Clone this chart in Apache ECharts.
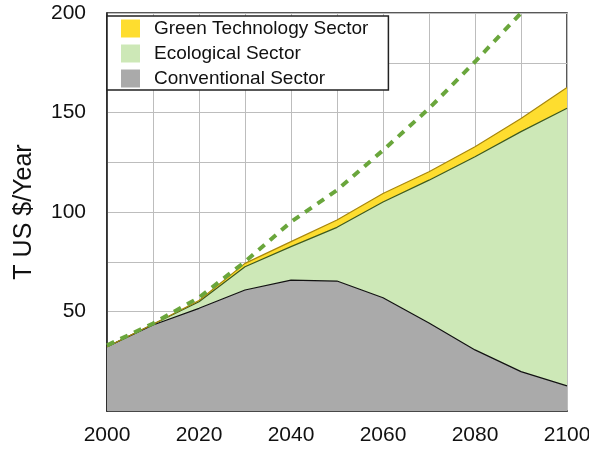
<!DOCTYPE html>
<html><head><meta charset="utf-8">
<script src="https://cdn.jsdelivr.net/npm/echarts@6/dist/echarts.min.js"></script>
<style>html,body{margin:0;padding:0;background:#fff}#c{width:589px;height:451px}</style>
</head><body><div id="c"></div>
<script>
const years = ['2000','2010','2020','2030','2040','2050','2060','2070','2080','2090','2100'];
const conventional = [32.3, 43.2, 51.6, 60.8, 65.8, 65.3, 56.9, 44.2, 30.7, 19.8, 12.6];
const ecological   = [0, 0.4, 3.3, 11.7, 16.8, 27.0, 48.1, 71.8, 97.1, 120.6, 139.5];
const greenTech    = [0, 0, 0.6, 1.7, 2.5, 3.7, 4.3, 4.2, 5.0, 6.6, 10.5];
const projection   = [33, 44, 57, 75, 95, 111, 131, 152, 175.5, 200, null];
const yTickLabels  = [50, 100, 150, 200];

const font = 'Liberation Sans';
const chart = echarts.init(document.getElementById('c'));
chart.setOption({
  animation: false,
  grid: { left: 107, right: 22, top: 13, bottom: 40, show: true, borderColor: '#222', borderWidth: 1.5,
          containLabel: false, outerBoundsMode: 'none' },
  legend: {
    orient: 'vertical', left: 107, top: 16,
    backgroundColor: '#fff', borderColor: '#222', borderWidth: 1.5,
    padding: [3, 20, 2, 14], itemGap: 6, itemWidth: 19, itemHeight: 18,
    textStyle: { fontFamily: font, fontSize: 19, lineHeight: 18, color: '#111', padding: [0, 0, 0, 9] },
    data: [
      { name: 'Green Technology Sector', icon: 'rect', itemStyle: { color: '#fedd2f', borderWidth: 0 } },
      { name: 'Ecological Sector', icon: 'rect', itemStyle: { color: '#cde8b7', borderWidth: 0 } },
      { name: 'Conventional Sector', icon: 'rect', itemStyle: { color: '#aaaaaa', borderWidth: 0 } }
    ],
    z: 10
  },
  xAxis: {
    type: 'category', data: years, boundaryGap: false,
    axisLine: { show: true, lineStyle: { color: '#222', width: 1.5 } },
    axisTick: { show: false },
    axisLabel: { interval: 1, fontFamily: font, fontSize: 21, color: '#111', margin: 14 },
    splitLine: { show: true, interval: 0, lineStyle: { color: '#bdbdbd', width: 1 } }
  },
  yAxis: {
    type: 'value', min: 0, max: 200, interval: 25,
    name: 'T US $/Year', nameLocation: 'middle', nameGap: 70,
    nameTextStyle: { fontFamily: font, fontSize: 25, color: '#111' },
    axisLine: { show: true, lineStyle: { color: '#222', width: 1.5 } },
    axisTick: { show: false },
    axisLabel: {
      fontFamily: font, fontSize: 21, color: '#111', margin: 21,
      formatter: v => yTickLabels.includes(v) ? String(v) : ''
    },
    splitLine: { show: true, lineStyle: { color: '#bdbdbd', width: 1 } }
  },
  series: [
    { name: 'Conventional Sector', type: 'line', stack: 's', data: conventional, symbol: 'none',
      lineStyle: { color: '#111', width: 1.2 }, itemStyle: { color: '#aaaaaa' },
      areaStyle: { color: '#aaaaaa', opacity: 1 } },
    { name: 'Ecological Sector', type: 'line', stack: 's', data: ecological, symbol: 'none',
      lineStyle: { color: '#3d5a1f', width: 1.2 }, itemStyle: { color: '#cde8b7' },
      areaStyle: { color: '#cde8b7', opacity: 1 } },
    { name: 'Green Technology Sector', type: 'line', stack: 's', data: greenTech, symbol: 'none',
      lineStyle: { color: '#a8870c', width: 1.2 }, itemStyle: { color: '#fedd2f' },
      areaStyle: { color: '#fedd2f', opacity: 1 } },
    { name: 'Projection', type: 'line', data: projection, symbol: 'none',
      lineStyle: { color: '#6aa63c', width: 4, type: [8, 7] }, z: 5 }
  ]
});
</script></body></html>
